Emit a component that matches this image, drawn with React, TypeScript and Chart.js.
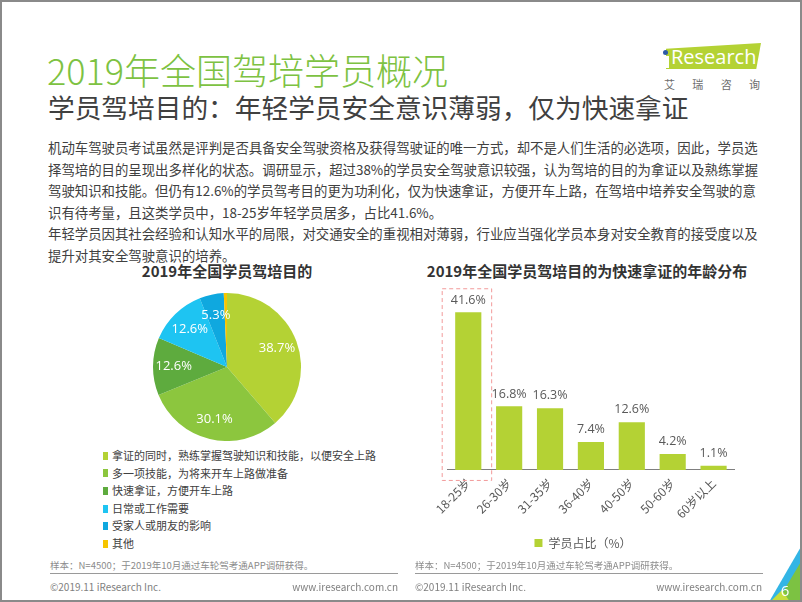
import React, { useEffect, useRef } from "react";
import { Chart, registerables } from "chart.js";
Chart.register(...registerables);

const CJK = '"Noto Sans CJK SC", "Noto Sans", sans-serif';
const NUM = '"Open Sans", "Noto Sans CJK SC", sans-serif';

const pageTitle = "2019年全国驾培学员概况";
const pageSubtitle = "学员驾培目的：年轻学员安全意识薄弱，仅为快速拿证";
const bodyLines = [
  "机动车驾驶员考试虽然是评判是否具备安全驾驶资格及获得驾驶证的唯一方式，却不是人们生活的必选项，因此，学员选",
  "择驾培的目的呈现出多样化的状态。调研显示，超过38%的学员安全驾驶意识较强，认为驾培的目的为拿证以及熟练掌握",
  "驾驶知识和技能。但仍有12.6%的学员驾考目的更为功利化，仅为快速拿证，方便开车上路，在驾培中培养安全驾驶的意",
  "识有待考量，且这类学员中，18-25岁年轻学员居多，占比41.6%。",
  "年轻学员因其社会经验和认知水平的局限，对交通安全的重视相对薄弱，行业应当强化学员本身对安全教育的接受度以及",
  "提升对其安全驾驶意识的培养。",
];

const pieTitle = "2019年全国学员驾培目的";
const purposeLabels = [
  "拿证的同时，熟练掌握驾驶知识和技能，以便安全上路",
  "多一项技能，为将来开车上路做准备",
  "快速拿证，方便开车上路",
  "日常或工作需要",
  "受家人或朋友的影响",
  "其他",
];
const purposeValues = [38.7, 30.1, 12.6, 12.6, 5.3, 0.7];
const purposeColors = ["#b4d234", "#8cc63e", "#5eab3e", "#1ec4f2", "#0fa8df", "#f6c500"];

const barTitle = "2019年全国学员驾培目的为快速拿证的年龄分布";
const ageLabels = ["18-25岁", "26-30岁", "31-35岁", "36-40岁", "40-50岁", "50-60岁", "60岁以上"];
const ageValues = [41.6, 16.8, 16.3, 7.4, 12.6, 4.2, 1.1];
const ageSeriesName = "学员占比（%）";
const highlightIndex = 0;

const sourceNote = "样本：N=4500；于2019年10月通过车轮驾考通APP调研获得。";
const copyright = "©2019.11 iResearch Inc.";
const website = "www.iresearch.com.cn";
const pageNumber = "6";

const pieLabelPlugin = {
  id: "pieLabels",
  afterDatasetsDraw(chart: any) {
    const ctx = chart.ctx;
    const meta = chart.getDatasetMeta(0);
    ctx.save();
    ctx.fillStyle = "#ffffff";
    ctx.font = `13px ${NUM}`;
    ctx.textAlign = "center";
    ctx.textBaseline = "middle";
    meta.data.forEach((arc: any, i: number) => {
      const v = purposeValues[i];
      if (v < 2) return;
      const p = arc.getProps(["x", "y", "startAngle", "endAngle", "outerRadius"], true);
      const mid = (p.startAngle + p.endAngle) / 2;
      const r = p.outerRadius * 0.72;
      ctx.fillText(v.toFixed(1) + "%", p.x + Math.cos(mid) * r, p.y + Math.sin(mid) * r);
    });
    ctx.restore();
  },
};

const barLabelPlugin = {
  id: "barLabels",
  afterDatasetsDraw(chart: any) {
    const ctx = chart.ctx;
    const meta = chart.getDatasetMeta(0);
    const yScale = chart.scales.y;
    const xScale = chart.scales.x;
    ctx.save();
    ctx.fillStyle = "#595959";
    ctx.font = `12.5px ${NUM}`;
    ctx.textAlign = "center";
    ctx.textBaseline = "bottom";
    meta.data.forEach((bar: any, i: number) => {
      ctx.fillText(ageValues[i].toFixed(1) + "%", bar.x, bar.y - 6);
    });
    // dashed highlight box around the first category
    const hb = meta.data[highlightIndex];
    const cw = xScale.width / ageLabels.length;
    const left = hb.x - cw * 0.65;
    const right = hb.x + cw * 0.56;
    const top = hb.y - 24;
    const bottom = yScale.getPixelForValue(0) + 10;
    ctx.strokeStyle = "#f29a9a";
    ctx.lineWidth = 1;
    ctx.setLineDash([4, 3]);
    ctx.strokeRect(left + 0.5, top + 0.5, right - left, bottom - top);
    ctx.restore();
  },
};

function PieChart() {
  const ref = useRef<HTMLCanvasElement>(null);
  useEffect(() => {
    const chart = new Chart(ref.current!, {
      type: "pie",
      data: {
        labels: purposeLabels,
        datasets: [
          {
            data: purposeValues,
            backgroundColor: purposeColors,
            borderWidth: 0,
          },
        ],
      },
      options: {
        animation: false,
        responsive: false,
        devicePixelRatio: 1,
        layout: { padding: 0 },
        plugins: { legend: { display: false }, tooltip: { enabled: false } },
      },
      plugins: [pieLabelPlugin],
    } as any);
    return () => chart.destroy();
  }, []);
  return <canvas ref={ref} width={148} height={148} style={{ position: "absolute", left: 153, top: 293 }} />;
}

function BarChart() {
  const ref = useRef<HTMLCanvasElement>(null);
  useEffect(() => {
    const chart = new Chart(ref.current!, {
      type: "bar",
      data: {
        labels: ageLabels,
        datasets: [
          {
            label: ageSeriesName,
            data: ageValues,
            backgroundColor: "#b4d234",
            categoryPercentage: 0.8,
            barPercentage: 0.8,
          },
        ],
      },
      options: {
        animation: false,
        responsive: false,
        devicePixelRatio: 1,
        layout: { padding: { top: 8, left: 0, right: 2, bottom: 0 } },
        scales: {
          x: {
            grid: { display: false, drawTicks: false },
            border: { display: true, color: "#7f7f7f", width: 1 },
            ticks: {
              color: "#595959",
              font: { size: 12, family: CJK },
              maxRotation: 45,
              minRotation: 45,
              padding: 6,
            },
          },
          y: { display: false, min: 0, max: 48 },
        },
        plugins: {
          legend: {
            position: "bottom",
            labels: {
              boxWidth: 8,
              boxHeight: 8,
              color: "#595959",
              font: { size: 12, family: CJK },
              padding: 10,
            },
          },
          tooltip: { enabled: false },
        },
      },
      plugins: [barLabelPlugin],
    } as any);
    return () => chart.destroy();
  }, []);
  return <canvas ref={ref} width={304} height={279} style={{ position: "absolute", left: 432, top: 280 }} />;
}

const abs = (o: any) => ({ position: "absolute" as const, whiteSpace: "nowrap" as const, ...o });

export default function App() {
  return (
    <div
      style={{
        position: "absolute",
        left: 0,
        top: 0,
        width: 802,
        height: 602,
        boxSizing: "border-box",
        border: "2px solid #8a8a8a",
        background: "#ffffff",
        overflow: "hidden",
        fontFamily: CJK,
      }}
    >
      <div style={{ position: "absolute", left: -2, top: -2, width: 802, height: 602 }}>
        <div style={abs({ left: 47, top: 47, fontSize: 36, lineHeight: "44px", color: "#7dc242", fontWeight: 300 })}>
          {pageTitle}
        </div>
        <div style={abs({ left: 48, top: 90, fontSize: 26.7, lineHeight: "34px", color: "#404040" })}>
          {pageSubtitle}
        </div>

        {/* logo */}
        <div
          style={abs({
            left: 666,
            top: 43,
            width: 95,
            height: 26,
            background: "#b4d234",
            clipPath: "polygon(0 22%, 100% 0, 95% 100%, 0 100%)",
          })}
        />
        <div style={abs({ left: 663, top: 50, width: 5, height: 5, borderRadius: 3, background: "#2d5aa8" })} />
        <div style={abs({ left: 666, top: 56, width: 3, height: 12, background: "#ffffff" })} />
        <div style={abs({ left: 671, top: 44, fontSize: 20, lineHeight: "26px", color: "#ffffff", fontFamily: '"Open Sans", sans-serif' })}>
          Research
        </div>
        <div
          style={abs({
            left: 664,
            top: 77,
            width: 96,
            display: "flex",
            justifyContent: "space-between",
            fontSize: 11,
            lineHeight: "14px",
            color: "#6d6d6d",
          })}
        >
          <span>艾</span>
          <span>瑞</span>
          <span>咨</span>
          <span>询</span>
        </div>

        {bodyLines.map((t, i) => (
          <div key={i} style={abs({ left: 48, top: 137 + i * 21.5, fontSize: 13.4, lineHeight: "21.5px", color: "#404040" })}>
            {t}
          </div>
        ))}

        <div style={abs({ left: 98, width: 258, top: 260, textAlign: "center", fontSize: 15, lineHeight: "22px", fontWeight: 700, color: "#333333" })}>
          {pieTitle}
        </div>
        <div style={abs({ left: 412, width: 350, top: 260, textAlign: "center", fontSize: 15, lineHeight: "22px", fontWeight: 700, color: "#333333" })}>
          {barTitle}
        </div>

        <PieChart />
        <BarChart />

        {purposeLabels.map((t, i) => (
          <div key={i} style={abs({ left: 103, top: 447 + i * 17.6, height: 17.6, display: "flex", alignItems: "center" })}>
            <span style={{ display: "inline-block", width: 5, height: 8, background: purposeColors[i], marginRight: 4 }} />
            <span style={{ fontSize: 11, color: "#404040", lineHeight: "17.6px" }}>{t}</span>
          </div>
        ))}

        {/* footer */}
        <div style={abs({ left: 50, top: 558, fontSize: 9.5, lineHeight: "14px", color: "#8c8c8c" })}>{sourceNote}</div>
        <div style={abs({ left: 415, top: 558, fontSize: 9.5, lineHeight: "14px", color: "#8c8c8c" })}>{sourceNote}</div>
        <div style={abs({ left: 50, top: 573, width: 348, height: 1, background: "#9a9a9a" })} />
        <div style={abs({ left: 415, top: 573, width: 348, height: 1, background: "#9a9a9a" })} />
        <div style={abs({ left: 50, top: 580, fontSize: 10, lineHeight: "14px", color: "#7f7f7f" })}>{copyright}</div>
        <div style={abs({ left: 415, top: 580, fontSize: 10, lineHeight: "14px", color: "#7f7f7f" })}>{copyright}</div>
        <div style={abs({ left: 248, width: 150, top: 580, textAlign: "right", fontSize: 10, lineHeight: "14px", color: "#7f7f7f" })}>{website}</div>
        <div style={abs({ left: 612, width: 150, top: 580, textAlign: "right", fontSize: 10, lineHeight: "14px", color: "#7f7f7f" })}>{website}</div>

        <svg width={802} height={602} style={{ position: "absolute", left: 0, top: 0 }}>
          <polygon points="802,545 802,602 769,602" fill="#33b5e5" />
          <polygon points="802,560 802,602 777,602" fill="#7cc242" />
          <polygon points="770,602 790,602 782,590" fill="#c6de3c" />
          <text x={785} y={596} fill="#ffffff" fontSize={15} textAnchor="middle" fontFamily='"Open Sans", sans-serif'>
            {pageNumber}
          </text>
        </svg>
      </div>
    </div>
  );
}
